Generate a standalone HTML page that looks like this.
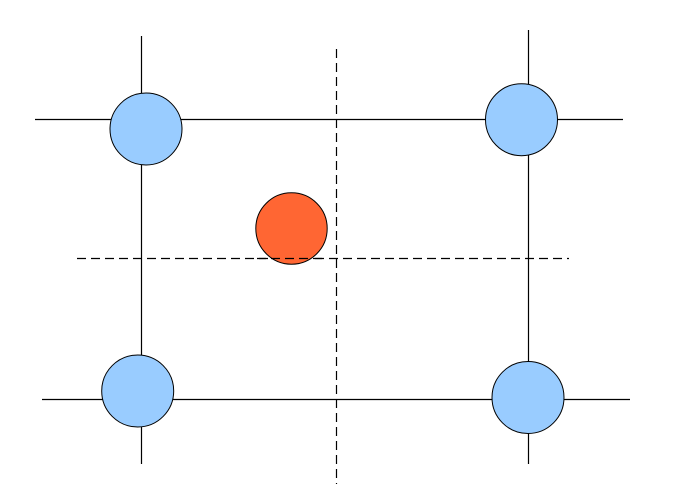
<!DOCTYPE html>
<html><head><style>html,body{margin:0;padding:0;background:#fff;}svg{display:block}</style></head>
<body>
<svg width="700" height="492" viewBox="0 0 700 492" xmlns="http://www.w3.org/2000/svg">
<g stroke="#000" stroke-width="1.2" fill="none">
<line x1="35" y1="119.5" x2="623" y2="119.5"/>
<line x1="42" y1="399.5" x2="630" y2="399.5"/>
<line x1="141.5" y1="36" x2="141.5" y2="464"/>
<line x1="528.5" y1="30" x2="528.5" y2="464"/>
<line x1="77" y1="258.5" x2="569" y2="258.5" stroke-dasharray="9,5"/>
<line x1="336.5" y1="49" x2="336.5" y2="484" stroke-dasharray="9,5"/>
</g>
<g stroke="#000" stroke-width="1">
<circle cx="146" cy="129" r="36" fill="#99ccff"/>
<circle cx="521.5" cy="119.7" r="36" fill="#99ccff"/>
<circle cx="137.7" cy="391" r="36" fill="#99ccff"/>
<circle cx="528" cy="397.5" r="36" fill="#99ccff"/>
<circle cx="291.5" cy="228.5" r="35.7" fill="#ff6633"/>
</g>
<line x1="256" y1="258.5" x2="327" y2="258.5" stroke="#000" stroke-width="1.2" stroke-dasharray="9,5" stroke-dashoffset="-1"/>
</svg>
</body></html>
